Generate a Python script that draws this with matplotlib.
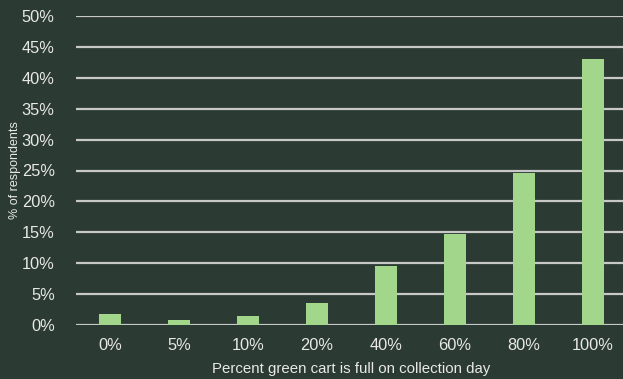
import matplotlib
matplotlib.use("Agg")
import numpy as np
from matplotlib import pyplot as plt
from matplotlib.ticker import FuncFormatter

categories = ['0%', '5%', '10%', '20%', '40%', '60%', '80%', '100%']
values = [1.8, 0.8, 1.45, 3.6, 9.5, 14.7, 24.6, 43.1]
yticks = list(range(0, 55, 5))

bg = '#2b3a32'
bar_color = '#a2d68b'
text_color = '#e8e8e8'
grid_color = '#c8c8c8'

plt.rcParams['font.family'] = ['Liberation Sans', 'DejaVu Sans']

fig = plt.figure(figsize=(6.23, 3.79), dpi=100, facecolor=bg)
ax = fig.add_axes([75.5 / 623, 54 / 379, 552 / 623, 309 / 379], facecolor=bg)

x = np.arange(len(categories))
ax.bar(x, values, width=0.31, color=bar_color, zorder=3)

ax.set_xlim(-0.5, len(categories) - 0.5)
ax.set_ylim(0, 50)
ax.set_yticks(yticks)
ax.yaxis.set_major_formatter(FuncFormatter(lambda v, p: f'{int(v)}%'))
ax.set_xticks(x)
ax.set_xticklabels(categories)

ax.grid(axis='y', color=grid_color, linewidth=1.6, zorder=0)
ax.set_axisbelow(True)
for s in ax.spines.values():
    s.set_visible(False)
ax.tick_params(axis='both', length=0, colors=text_color, labelsize=11.8)
ax.tick_params(axis='y', pad=15)
ax.tick_params(axis='x', pad=9)

ax.set_xlabel('Percent green cart is full on collection day', color=text_color, fontsize=10.8, labelpad=7)
ax.set_ylabel('% of respondents', color=text_color, fontsize=9, labelpad=4)
ax.yaxis.set_label_coords(-54 / 552, 0.5)

fig.savefig('out.png', dpi=100, facecolor=bg)
